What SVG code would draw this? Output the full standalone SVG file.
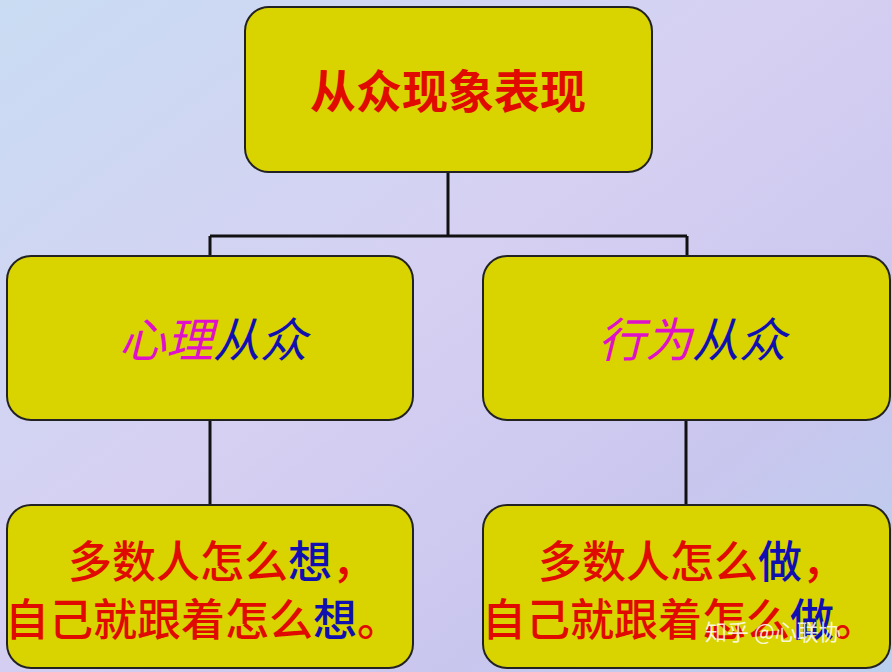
<svg xmlns="http://www.w3.org/2000/svg" width="892" height="672" viewBox="0 0 892 672">
<defs>
<linearGradient id="bg" x1="0" y1="0" x2="1" y2="1">
<stop offset="0" stop-color="#c9dcf2"/>
<stop offset="0.45" stop-color="#d6d0f2"/>
<stop offset="0.75" stop-color="#c9c6ee"/>
<stop offset="1" stop-color="#b9d0ee"/>
</linearGradient>
<style>
.box{fill:#d9d300;stroke:#222;stroke-width:2}
.ln{stroke:#111;stroke-width:3;fill:none}
.t{font-family:"Noto Sans CJK SC","Noto Sans",sans-serif;text-anchor:middle}
.bold{font-weight:700}
.it{font-weight:400;font-style:italic}
.med{font-weight:500}
.red{fill:#e00a00}
.blue{fill:#1010b0}
.mag{fill:#e010c8}
</style>
</defs>
<rect x="0" y="0" width="892" height="672" fill="url(#bg)"/>
<g id="connectors">
<path class="ln" d="M448 172V236M210 236H687M210 236V256M687 236V256"/>
<path class="ln" d="M210 420V505M686 420V505"/>
</g>
<g id="top">
<rect class="box" x="245" y="7" width="407" height="165" rx="24"/>
<text class="t bold red" x="448" y="108" font-size="46">从众现象表现</text>
</g>
<g id="psych">
<rect class="box" x="7" y="256" width="406" height="164" rx="24"/>
<text class="t it" x="213" y="357" font-size="47"><tspan class="mag">心理</tspan><tspan class="blue">从众</tspan></text>
</g>
<g id="behav">
<rect class="box" x="483" y="256" width="407" height="164" rx="24"/>
<text class="t it" x="692" y="357" font-size="47"><tspan class="mag">行为</tspan><tspan class="blue">从众</tspan></text>
</g>
<g id="psych-desc">
<rect class="box" x="7" y="505" width="406" height="163" rx="24"/>
<text class="t med red" x="222" y="578" font-size="44">多数人怎么<tspan class="blue">想</tspan>，</text>
<text class="t med red" x="203" y="636" font-size="44">自己就跟着怎么<tspan class="blue">想</tspan>。</text>
</g>
<g id="behav-desc">
<rect class="box" x="483" y="505" width="407" height="163" rx="24"/>
<text class="t med red" x="692" y="578" font-size="44">多数人怎么<tspan class="blue">做</tspan>，</text>
<text class="t med red" x="680" y="636" font-size="44">自己就跟着怎么<tspan class="blue">做</tspan>。</text>
</g>
<text x="705" y="640" font-family="'Noto Sans CJK SC',sans-serif" font-size="22" fill="#ffffff" fill-opacity="0.85">知乎 @心联协</text>
</svg>
